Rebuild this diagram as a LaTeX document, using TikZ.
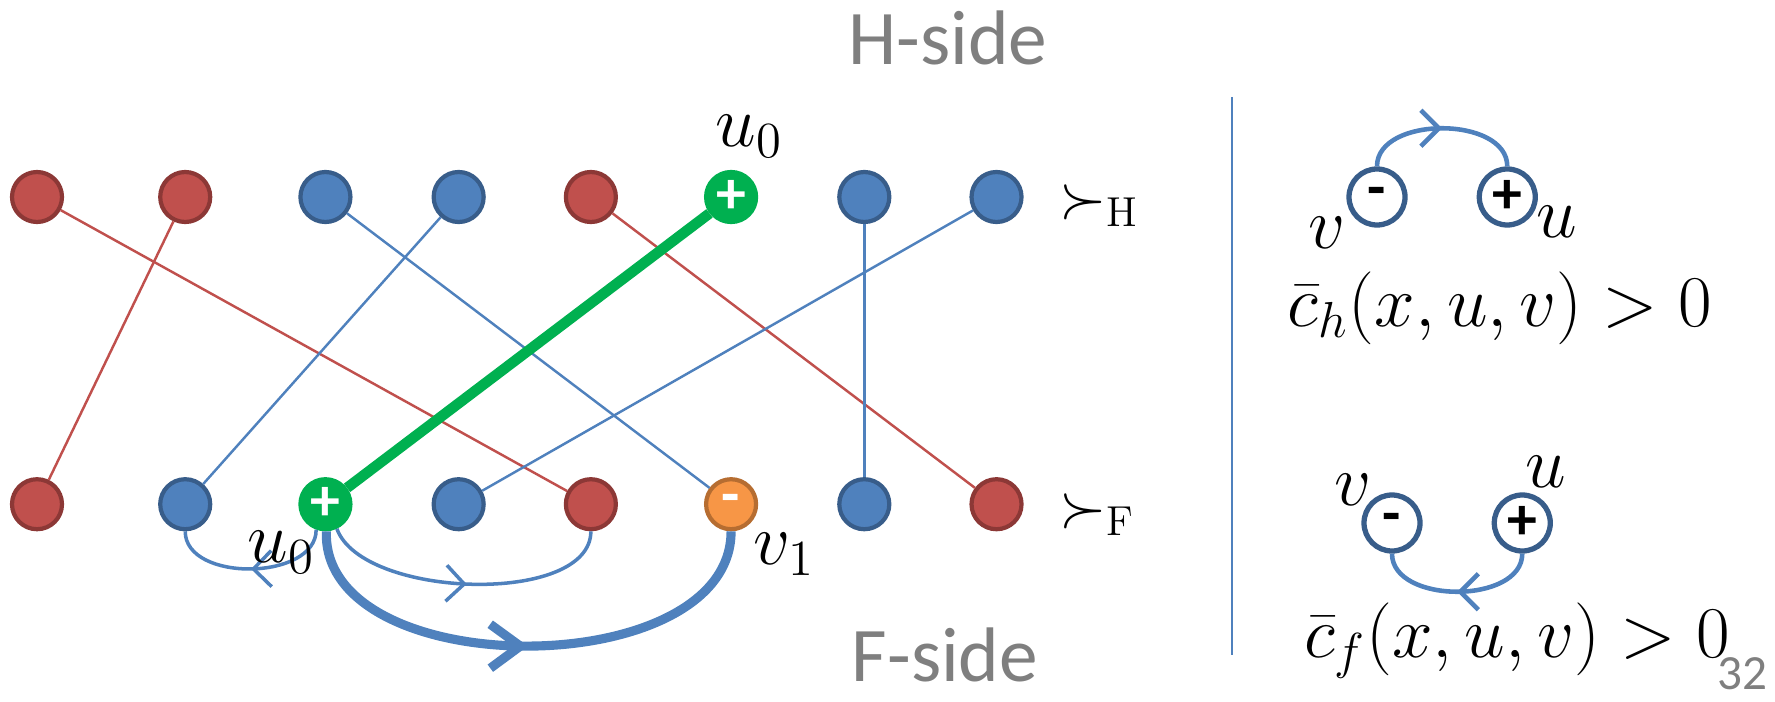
\documentclass[tikz,border=0pt]{standalone}
\usepackage{fontspec}
\newfontfamily\sidefont{Carlito}
\usepackage{xcolor}
\usepackage{tikz}
\usetikzlibrary{arrows.meta,positioning,decorations.markings}

\definecolor{nodered}{HTML}{C0504D}
\definecolor{edgered}{HTML}{8C3836}
\definecolor{nodeblue}{HTML}{4F81BD}
\definecolor{edgeblue}{HTML}{385D8A}
\definecolor{nodegreen}{HTML}{00B050}
\definecolor{nodeorange}{HTML}{F79646}
\definecolor{edgeorange}{HTML}{B66D31}
\definecolor{sidegray}{HTML}{7F7F7F}

\begin{document}
\begin{tikzpicture}[
  node distance=0.8cm and 0.8cm,
  vtx/.style={circle, minimum size=0.5cm, inner sep=0pt, line width=1.2pt,
              text=white, font=\sidefont\bfseries\fontsize{17}{17}\selectfont},
  redv/.style={vtx, draw=edgered, fill=nodered},
  bluev/.style={vtx, draw=edgeblue, fill=nodeblue},
  greenv/.style={vtx, draw=nodegreen, fill=nodegreen},
  orangev/.style={vtx, draw=edgeorange, fill=nodeorange},
  sgn/.style={circle, minimum size=0.56cm, inner sep=0pt, line width=1.5pt,
              draw=edgeblue, fill=white,
              font=\sidefont\bfseries\fontsize{17}{17}\selectfont},
  lbl/.style={inner sep=1pt, font=\fontsize{20}{24}\selectfont},
  pref/.style={inner sep=1pt, font=\fontsize{17}{20}\selectfont},
  rel/.style={inner sep=0pt, font=\fontsize{19.5}{23}\selectfont},
  side/.style={text=sidegray, font=\sidefont\fontsize{22}{26}\selectfont},
  redline/.style={nodered, line width=0.7pt},
  blueline/.style={nodeblue, line width=0.7pt},
  greenline/.style={nodegreen, line width=3pt},
  midarrow/.style={postaction={decorate},
                   decoration={markings, mark=at position 0.5 with {\arrow{#1}}}},
  thinarc/.style={nodeblue, line width=1pt,
                  midarrow={Straight Barb[length=1.8mm,width=3.6mm]}},
  thickarc/.style={nodeblue, line width=2.6pt,
                   midarrow={Straight Barb[length=3mm,width=4.4mm]}},
]
\useasboundingbox (0,0) rectangle (17.75,7.01);

% H-side order (top)
\node[redv] (t1) at (0.37,5.04) {};
\node[redv, right=0.94cm of t1] (t2) {};
\node[bluev, right=0.86cm of t2] (t3) {};
\node[bluev, right=0.79cm of t3] (t4) {};
\node[redv, right=0.78cm of t4] (t5) {};
\node[greenv, right=0.86cm of t5] (t6) {+};
\node[bluev, right=0.79cm of t6] (t7) {};
\node[bluev, right=0.78cm of t7] (t8) {};

% F-side order (bottom)
\node[redv, below=2.53cm of t1] (b1) {};
\node[bluev, below=2.53cm of t2] (b2) {};
\node[greenv, below=2.53cm of t3] (b3) {+};
\node[bluev, below=2.53cm of t4] (b4) {};
\node[redv, below=2.53cm of t5] (b5) {};
\node[orangev, below=2.53cm of t6] (b6) {-};
\node[bluev, below=2.53cm of t7] (b7) {};
\node[redv, below=2.53cm of t8] (b8) {};

% Matching
\draw[redline] (t1) -- (b5);
\draw[redline] (t2) -- (b1);
\draw[blueline] (t3) -- (b6);
\draw[blueline] (t4) -- (b2);
\draw[redline] (t5) -- (b8);
\draw[greenline] (t6) -- (b3);
\draw[blueline] (t7) -- (b7);
\draw[blueline] (t8) -- (b4);

% Arcs below F-side
\draw[thinarc] (b3.-110) to[out=-90, in=-90] (b2.-90);
\draw[thinarc] (b3.-65) to[out=-70, in=-90, looseness=0.75] (b5.-90);
\draw[thickarc] (b3.-88) to[out=-92, in=-90, looseness=0.97] (b6.-90);

% Labels
\node[lbl, above=0.08cm of t6, xshift=1.8mm] (u0top) {$u_0$};
\node[lbl] (u0bot) at ([xshift=-4.4mm, yshift=-4.8mm]b3) {$u_0$};
\node[lbl] (v1) at ([xshift=5.3mm, yshift=-5mm]b6) {$v_1$};
\node[pref] (prefh) at ([xshift=10.3mm, yshift=-0.9mm]t8) {$\succ_{\mathrm{H}}$};
\node[pref] (preff) at ([xshift=10.1mm, yshift=-1mm]b8) {$\succ_{\mathrm{F}}$};
\node[side] (hside) at (9.48,6.63) {H-side};
\node[side] (fside) at (9.45,0.46) {F-side};

% Divider
\coordinate (divtop) at (12.32,6.04);
\coordinate (divbot) at (12.32,0.46);
\draw[nodeblue, line width=0.7pt] (divtop) -- (divbot);

% H-side blocking pair
\node[sgn] (hm) at (13.77,5.04) {-};
\node[sgn, right=0.69cm of hm] (hp) {+};
\node[lbl] (hv) at ([xshift=-5mm, yshift=-3.6mm]hm) {$v$};
\node[lbl] (hu) at ([xshift=5mm, yshift=-2.5mm]hp) {$u$};
\draw[thinarc, line width=1.3pt] (hm.90) to[out=90, in=90] (hp.90);
\node[rel] (costh) at (15.0,3.93) {$\bar{c}_h(x,u,v) > 0$};

% F-side blocking pair
\node[sgn] (fm) at (13.92,1.78) {-};
\node[sgn, right=0.69cm of fm] (fp) {+};
\node[lbl] (fv) at ([xshift=-3.9mm, yshift=3.3mm]fm) {$v$};
\node[lbl] (fu) at ([xshift=2.4mm, yshift=5.1mm]fp) {$u$};
\draw[thinarc, line width=1.3pt] (fp.-90) to[out=-90, in=-90] (fm.-90);
\node[rel] (costf) at (15.17,0.6) {$\bar{c}_f(x,u,v) > 0$};

% Slide number
\node[anchor=south, inner sep=0pt, text=sidegray,
      font=\sidefont\fontsize{14}{16}\selectfont] (pnum) at (17.42,0.1) {32};

\end{tikzpicture}
\end{document}
